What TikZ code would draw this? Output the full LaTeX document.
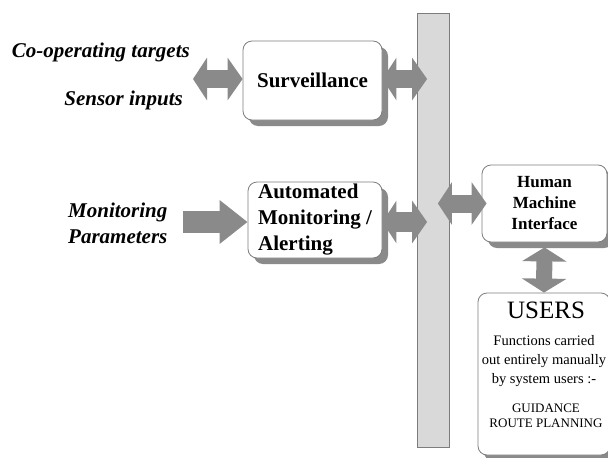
\documentclass[tikz,border=0pt]{standalone}
\usepackage{fontspec}
\setmainfont{LiberationSerif}[Extension = .ttf, UprightFont = *-Regular, BoldFont = *-Bold,
	ItalicFont = *-Italic, BoldItalicFont = *-BoldItalic]
\usetikzlibrary{arrows.meta, shadows}

\definecolor{arrowgray}{RGB}{138,138,138}
\definecolor{busgray}{RGB}{217,217,217}
\definecolor{edgegray}{RGB}{125,125,125}

\begin{document}
\begin{tikzpicture}[x = 1pt, y = -1pt,
	box/.style = {draw = edgegray, fill = white, line width = 0.8pt, rounded corners = 9pt, inner sep = 0pt,
		drop shadow = {shadow xshift = 6pt, shadow yshift = -6pt, fill = arrowgray, opacity = 1}},
	label/.style = {font = \fontsize{21}{26}\selectfont\bfseries\itshape, inner sep = 0pt},
	blockdbl/.style = {draw = arrowgray, line width = 18pt,
		arrows = {Triangle[width = 42pt, length = 14pt]-Triangle[width = 42pt, length = 15pt]}},
	blocksgl/.style = {draw = arrowgray, line width = 22pt,
		arrows = {-Triangle[width = 42pt, length = 28pt]}}]

	% Frame
	
	\useasboundingbox (0, 0) rectangle (608, 458);

	% Bus
	
	\node [draw = edgegray, fill = busgray, line width = 0.8pt, minimum width = 32pt, minimum height = 434pt,
		inner sep = 0pt] (bus) at (433.5, 230) {};

	% Boxes
	
	\node [box, minimum width = 139pt, minimum height = 79pt, font = \fontsize{21}{26}\selectfont\bfseries]
		(surv) at (312.5, 80.5) {Surveillance};
	\node [box, minimum width = 134pt, minimum height = 76pt, align = left,
		font = \fontsize{21}{26}\selectfont\bfseries]
		(auto) at (315, 220) {Automated\\Monitoring /\\Alerting};
	\node [box, minimum width = 125pt, minimum height = 77pt, align = center,
		font = \fontsize{17}{21}\selectfont\bfseries]
		(hmi) at (544.5, 203.5) {Human\\Machine\\Interface};
	\node [box, minimum width = 132pt, minimum height = 162pt] (users) at (544, 374) {};

	% Users text
	
	\node [font = \fontsize{25}{30}\selectfont, inner sep = 0pt] (usershead) at (546, 310) {USERS};
	\node [font = \fontsize{14.5}{19}\selectfont, align = center, inner sep = 0pt] (usersfn)
		at (544, 361) {Functions carried\\out entirely manually\\by system users :-};
	\node [font = \fontsize{13}{15}\selectfont, align = center, inner sep = 0pt] (userstask)
		at (546, 415.5) {GUIDANCE\\ROUTE PLANNING};

	% Inputs
	
	\node [label, anchor = east] (coop) at (190, 52) {Co-operating targets};
	\node [label, anchor = east] (sensor) at (183, 100) {Sensor inputs};
	\node [label, anchor = west, align = left] (param) at (68, 223) {Monitoring\\Parameters};

	% Arrows
	
	\coordinate (survin) at (193, 79);
	\coordinate (autoin) at (183, 222);
	\coordinate (busa) at ([xshift = 10pt]bus.west |- survin);
	\coordinate (busb) at ([xshift = 10pt]bus.west |- autoin);
	\coordinate (busc) at ([xshift = -12pt]bus.east |- hmi.west);

	\draw [blockdbl] (survin) -- (surv.west |- survin);
	\draw [blockdbl] (surv.east |- survin) -- (busa);
	\draw [blocksgl] (autoin) -- (auto.west |- autoin);
	\draw [blockdbl, line width = 20pt] (auto.east |- autoin) -- (busb);
	\draw [blockdbl] (busc) -- ([xshift = 5pt]hmi.west);
	\draw [blockdbl, line width = 16pt, arrows = {Triangle[width = 44pt, length = 14pt]-Triangle[width = 44pt, length = 14pt]}]
		([yshift = -5pt]hmi.south) -- (users.north);

\end{tikzpicture}
\end{document}
